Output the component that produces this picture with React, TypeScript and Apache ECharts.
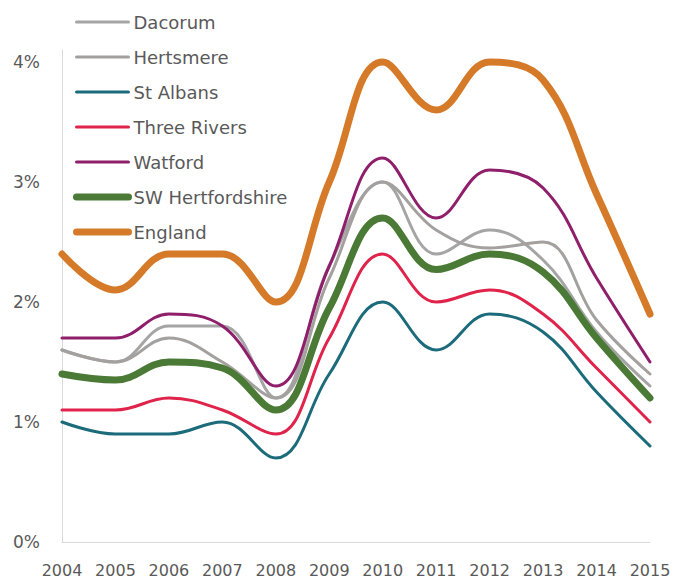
import React, { useEffect, useRef } from "react";
import * as echarts from "echarts";

const years = ["2004", "2005", "2006", "2007", "2008", "2009", "2010", "2011", "2012", "2013", "2014", "2015"];

const dacorum = [1.6, 1.5, 1.8, 1.8, 1.2, 2.3, 3.0, 2.4, 2.6, 2.35, 1.75, 1.3];
const hertsmere = [1.6, 1.5, 1.7, 1.5, 1.2, 2.2, 3.0, 2.6, 2.45, 2.5, 1.85, 1.4];
const stAlbans = [1.0, 0.9, 0.9, 1.0, 0.7, 1.4, 2.0, 1.6, 1.9, 1.75, 1.25, 0.8];
const threeRivers = [1.1, 1.1, 1.2, 1.1, 0.9, 1.7, 2.4, 2.0, 2.1, 1.9, 1.45, 1.0];
const watford = [1.7, 1.7, 1.9, 1.8, 1.3, 2.3, 3.2, 2.7, 3.1, 2.95, 2.2, 1.5];
const swHerts = [1.4, 1.35, 1.5, 1.45, 1.1, 1.95, 2.7, 2.27, 2.4, 2.25, 1.7, 1.2];
const england = [2.4, 2.1, 2.4, 2.4, 2.0, 3.0, 4.0, 3.6, 4.0, 3.85, 2.9, 1.9];

const seriesDefs = [
  { name: "Dacorum", data: dacorum, color: "#A5A5A5", width: 3 },
  { name: "Hertsmere", data: hertsmere, color: "#A3A09E", width: 3 },
  { name: "St Albans", data: stAlbans, color: "#1B6B7B", width: 3 },
  { name: "Three Rivers", data: threeRivers, color: "#E0234B", width: 3 },
  { name: "Watford", data: watford, color: "#8F1F6B", width: 3 },
  { name: "SW Hertfordshire", data: swHerts, color: "#4A7A35", width: 7 },
  { name: "England", data: england, color: "#D57A28", width: 7 },
];

const FONT = "DejaVu Sans";

export default function App() {
  const ref = useRef<HTMLDivElement>(null);
  useEffect(() => {
    if (!ref.current) return;
    const chart = echarts.init(ref.current, undefined, { renderer: "svg" });
    chart.setOption({
      animation: false,
      backgroundColor: "#ffffff",
      legend: {
        orient: "vertical",
        left: 68,
        top: 7,
        itemWidth: 52,
        itemHeight: 14,
        itemGap: 15,
        itemStyle: { opacity: 0 },
        textStyle: { color: "#595959", fontFamily: FONT, fontSize: 18, lineHeight: 20 },
        data: seriesDefs.map((s) => ({
          name: s.name,
          lineStyle: { width: s.width, color: s.color, cap: "round" },
        })),
      },
      grid: { left: 62, right: 28, top: 50, bottom: 39, containLabel: false },
      xAxis: {
        type: "category",
        data: years,
        boundaryGap: false,
        axisLine: { show: true, lineStyle: { color: "#D9D9D9", width: 1 } },
        axisTick: { show: false },
        axisLabel: { color: "#595959", fontFamily: FONT, fontSize: 16, margin: 20, interval: 0 },
        splitLine: { show: false },
      },
      yAxis: {
        type: "value",
        min: 0,
        max: 4.1,
        interval: 1,
        axisLine: { show: true, lineStyle: { color: "#D9D9D9", width: 1 } },
        axisTick: { show: false },
        splitLine: { show: false },
        axisLabel: {
          color: "#595959",
          fontFamily: FONT,
          fontSize: 17,
          margin: 22,
          formatter: (v: number) => (Math.abs(v - Math.round(v)) < 1e-6 ? Math.round(v) + "%" : ""),
        },
      },
      series: seriesDefs.map((s) => ({
        name: s.name,
        type: "line",
        data: s.data,
        smooth: 0.4,
        symbol: "none",
        color: s.color,
        lineStyle: { color: s.color, width: s.width, cap: "round", join: "round" },
        itemStyle: { color: s.color },
      })),
    });
    return () => chart.dispose();
  }, []);
  return (
    <div
      ref={ref}
      style={{ position: "absolute", left: 0, top: 0, width: 678, height: 581 }}
    />
  );
}
